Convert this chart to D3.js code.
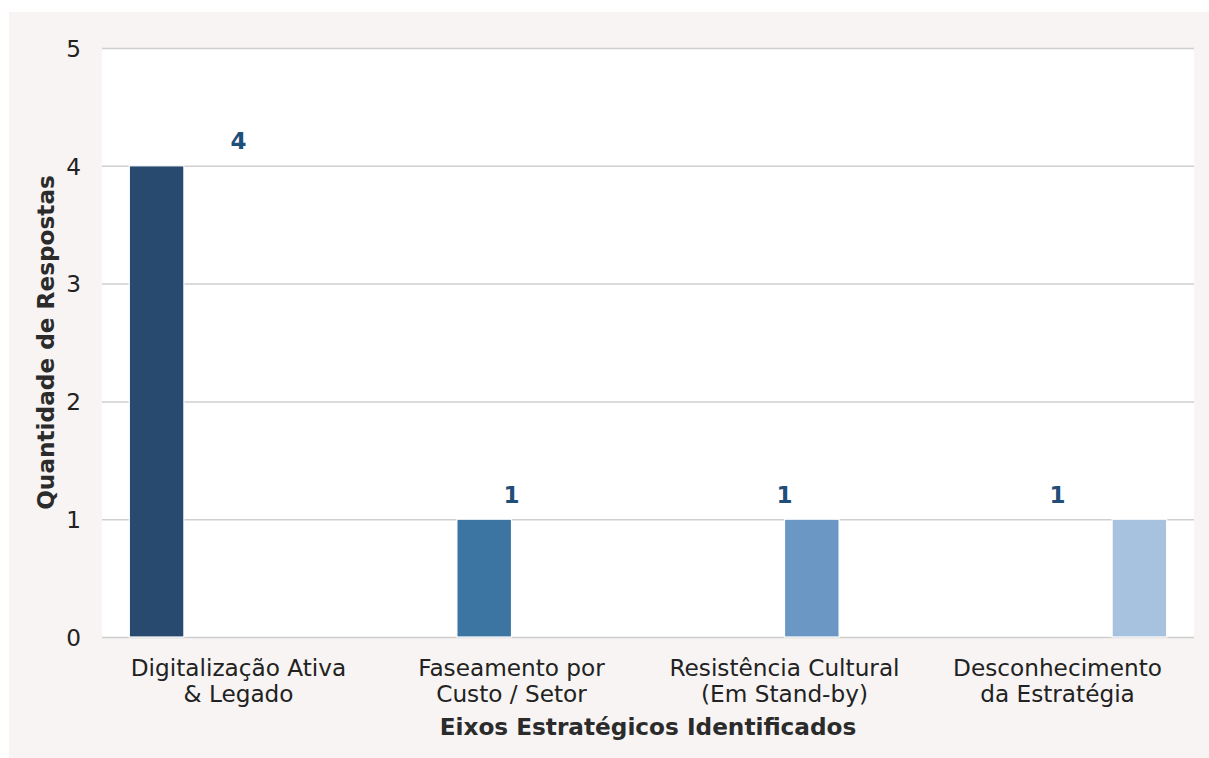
<!DOCTYPE html>
<html>
<head>
<meta charset="utf-8">
<script src="https://cdn.jsdelivr.net/npm/d3@7"></script>
<style>
  html, body { margin: 0; padding: 0; background: #ffffff; }
  svg { display: block; }
  text { font-family: "DejaVu Sans", sans-serif; }
</style>
</head>
<body>
<svg id="chart" width="1209" height="758"></svg>
<script>
const categories = [
  ["Digitalização Ativa", "& Legado"],
  ["Faseamento por", "Custo / Setor"],
  ["Resistência Cultural", "(Em Stand-by)"],
  ["Desconhecimento", "da Estratégia"]
];
const categoryKeys = ["Digitalização Ativa & Legado", "Faseamento por Custo / Setor", "Resistência Cultural (Em Stand-by)", "Desconhecimento da Estratégia"];
const values = [4, 1, 1, 1];
const barColors = ["#284a6e", "#3c74a2", "#6a97c4", "#a6c2de"];
const yTicks = [0, 1, 2, 3, 4, 5];
const xTitle = "Eixos Estratégicos Identificados";
const yTitle = "Quantidade de Respostas";

const svg = d3.select("#chart");
const W = 1209, H = 758;
const plot = { left: 102, right: 1194, top: 48, bottom: 637 };
const FS = "23.2px";

// figure background
svg.append("rect").attr("x", 9).attr("y", 12).attr("width", W - 9).attr("height", H - 12).attr("fill", "#f7f4f3");
// plot background
svg.append("rect").attr("x", plot.left).attr("y", plot.top)
  .attr("width", plot.right - plot.left).attr("height", plot.bottom - plot.top).attr("fill", "#ffffff");

const x = d3.scaleBand().domain(categoryKeys).range([plot.left, plot.right]).padding(0);
const bw = x.bandwidth();
const xHue = d3.scaleBand().domain(categoryKeys).range([0.1 * bw, 0.9 * bw]).padding(0);
const y = d3.scaleLinear().domain([0, 5]).range([plot.bottom, plot.top]);

// gridlines + y ticks
const yAxis = d3.axisLeft(y).tickValues(yTicks).tickSize(-(plot.right - plot.left)).tickPadding(21).tickFormat(d3.format("d"));
const gy = svg.append("g").attr("transform", `translate(${plot.left},0)`).call(yAxis);
gy.select(".domain").remove();
gy.selectAll(".tick line").attr("stroke", "#cfcfcf").attr("stroke-width", 1.5);
gy.selectAll(".tick text").attr("fill", "#222222").style("font-size", FS).attr("dy", "0.36em");

// bars
svg.append("g").selectAll("rect").data(categoryKeys).join("rect")
  .attr("x", (d) => x(d) + xHue(d))
  .attr("width", xHue.bandwidth())
  .attr("y", (d, i) => y(values[i]))
  .attr("height", (d, i) => y(0) - y(values[i]))
  .attr("fill", (d, i) => barColors[i])
  .attr("stroke", "#ffffff").attr("stroke-width", 1.2);

// value labels
svg.append("g").selectAll("text").data(categoryKeys).join("text")
  .attr("x", (d) => x(d) + bw / 2)
  .attr("y", (d, i) => y(values[i]) - 16.5)
  .attr("text-anchor", "middle")
  .attr("fill", "#1f4e79")
  .style("font-size", "23px").style("font-weight", "bold")
  .text((d, i) => values[i]);

// x tick labels
const xAxis = d3.axisBottom(x).tickSize(0).tickFormat("");
const gx = svg.append("g").attr("transform", `translate(0,${plot.bottom})`).call(xAxis);
gx.select(".domain").remove();
gx.selectAll(".tick").each(function (d, i) {
  const t = d3.select(this).append("text")
    .attr("text-anchor", "middle").attr("fill", "#222222").style("font-size", FS);
  categories[i].forEach((line, j) => {
    t.append("tspan").attr("x", 0).attr("y", 39 + j * 25.8).text(line);
  });
});

// axis titles
svg.append("text").attr("x", (plot.left + plot.right) / 2).attr("y", 734.5)
  .attr("text-anchor", "middle").attr("fill", "#2b2b2b")
  .style("font-size", FS).style("font-weight", "bold").text(xTitle);

svg.append("text").attr("transform", `translate(53.5,${(plot.top + plot.bottom) / 2}) rotate(-90)`)
  .attr("text-anchor", "middle").attr("fill", "#2b2b2b")
  .style("font-size", FS).style("font-weight", "bold").text(yTitle);
</script>
</body>
</html>
